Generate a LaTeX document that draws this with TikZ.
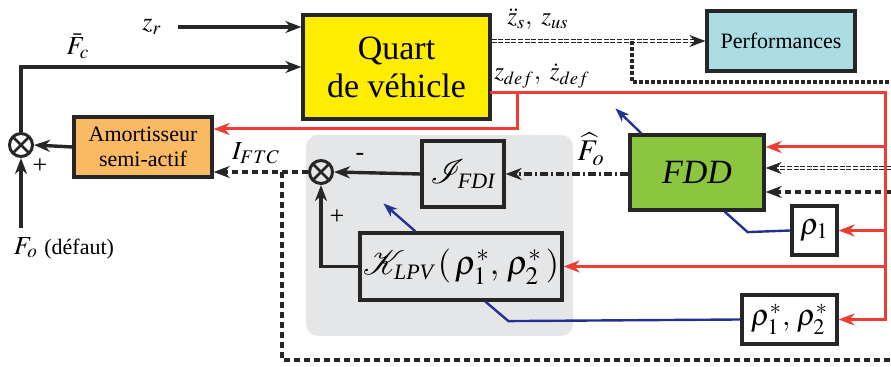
\documentclass[tikz,border=0pt]{standalone}
\usepackage{mathptmx}
\usepackage{fontspec}
\setmainfont{Liberation Serif}
\usepackage{tikz}
\usetikzlibrary{arrows.meta, positioning, backgrounds}
\definecolor{quartyellow}{RGB}{255,237,0}
\definecolor{amortorange}{RGB}{250,186,100}
\definecolor{perfcyan}{RGB}{170,220,226}
\definecolor{fddgreen}{RGB}{140,197,62}
\definecolor{panelgray}{RGB}{229,230,232}
\definecolor{sigred}{RGB}{236,62,52}
\definecolor{parblue}{RGB}{35,50,145}

\begin{document}
\begin{tikzpicture}[x=0.5pt, y=-0.5pt, >={Stealth[length=8pt,width=6pt,inset=2.5pt]}]
        \tikzstyle{box} = [rectangle, draw=black!85, line width=1.6pt, text centered, inner sep=0pt]
        \tikzstyle{sumnode} = [circle, draw=black!85, line width=1.5pt, minimum size=11.5pt, inner sep=0pt,
            path picture={\draw[line width=1.3pt] (path picture bounding box.north west) -- (path picture bounding box.south east)
                (path picture bounding box.south west) -- (path picture bounding box.north east);}]
        \tikzstyle{arrow} = [line width=1.7pt,->,black!85]
        \tikzstyle{dasharrow} = [line width=1.6pt,->,black!85,dash pattern=on 3pt off 2pt]
        \tikzstyle{dashline} = [line width=1.6pt,black!85,dash pattern=on 3pt off 2pt]
        \tikzstyle{dblline} = [line width=0.6pt,double=white,double distance=1.2pt,black!85,dash pattern=on 2.5pt off 0.8pt]
        \tikzstyle{redarrow} = [line width=1.5pt,->,sigred]
        \tikzstyle{redline} = [line width=1.5pt,sigred]
        \tikzstyle{bluearrow} = [line width=1.2pt,-{Stealth[length=7pt,width=5pt,inset=2pt]},parblue]
        \tikzstyle{blueline} = [line width=1.2pt,parblue]
        \tikzstyle{lbl} = [inner sep=0pt, font=\fontsize{13}{15}\selectfont]

        \useasboundingbox (0,0) rectangle (891,367);

        % blocks
        \node (quart) [box, fill=quartyellow, minimum width=93.5pt, minimum height=52pt, align=center,
            font=\fontsize{17}{19}\selectfont] at (396.5,67) {Quart\\de véhicle};
        \node (perf) [box, fill=perfcyan, minimum width=74pt, minimum height=30pt,
            font=\fontsize{11}{13}\selectfont] at (781,41) {Performances};
        \node (amort) [box, fill=amortorange, minimum width=69pt, minimum height=30pt, align=center,
            font=\fontsize{11}{12.5}\selectfont] at (143,147) {Amortisseur\\semi-actif};
        \node (fdd) [box, fill=fddgreen, minimum width=67pt, minimum height=37.5pt,
            font=\fontsize{17}{19}\selectfont\itshape] at (697,172.5) {FDD};
        \node (rho1) [box, fill=white, minimum width=22.5pt, minimum height=24.5pt,
            font=\fontsize{15}{17}\selectfont] at (814.5,230.5) {$\rho_1$};
        \node (rhos) [box, fill=white, minimum width=47.5pt, minimum height=24.5pt,
            font=\fontsize{15}{17}\selectfont] at (789.5,319.5) {$\rho_1^*,\,\rho_2^*$};

        % gray panel with the FTC part
        \fill[panelgray, rounded corners=6pt] (306,135) rectangle (573,336);
        \node (ifdi) [box, fill=panelgray, minimum width=41pt, minimum height=33pt,
            font=\fontsize{17}{19}\selectfont] at (463,174) {$\mathcal{I}_{\mbox{\fontsize{11}{11}\selectfont\itshape FDI}}$};
        \node (klpv) [box, fill=panelgray, minimum width=101pt, minimum height=33.5pt,
            font=\fontsize{17}{19}\selectfont] at (461,266.5) {$\mathcal{K}_{\mbox{\fontsize{11}{11}\selectfont\itshape LPV}}\,(\,\rho_1^*,\,\rho_2^*\,)$};

        % summing points
        \node (sum1) [sumnode] at (21,145) {};
        \node (sum2) [sumnode] at (321,172) {};

        % labels
        \node (zr) [lbl] at (152,27) {$z_r$};
        \node (fc) [lbl] at (78,46) {$\bar{F}_c$};
        \node (zs) [lbl, font=\fontsize{12.5}{15}\selectfont] at (538,19) {$\ddot{z}_s,\ z_{us}$};
        \node (zdef) [lbl, font=\fontsize{12.5}{15}\selectfont] at (542,76) {$z_{def},\ \dot{z}_{def}$};
        \node (ftc) [lbl] at (256,153) {$I_{FTC}$};
        \node (fhat) [lbl, font=\fontsize{15}{17}\selectfont] at (591,149) {$\widehat{F}_o$};
        \node (fo) [lbl] at (64,248) {$\fontsize{17}{19}\selectfont F_o$ \fontsize{11}{13}\selectfont(défaut)};
        \node (p1) [lbl] at (40,166) {+};
        \node (m2) [lbl] at (360,157) {-};
        \node (p2) [lbl] at (337,217) {+};

        \coordinate (fostart) at (21,228);
        \coordinate (zdefout) at (490,93);
        \coordinate (rA) at (517,93);
        \coordinate (rB) at (517,129);
        \coordinate (rR) at (885,93);
        \coordinate (rF) at (885,147);
        \coordinate (perfbr) at (632,41);
        \coordinate (outA) at (891,82);
        \coordinate (inA) at (891,168);
        \coordinate (inB) at (891,192);
        \coordinate (ftcbr) at (282,172);
        \coordinate (outC) at (891,360);

        % black signals
        \draw [arrow] (zr.east) ++(8pt,0) -- (quart.west |- zr);
        \draw [arrow] (sum1.north) |- (quart.west);
        \draw [arrow] (amort.west) -- (sum1.east);
        \draw [arrow] (fostart) -- (sum1.south);
        \draw [arrow] (ifdi.west) -- (sum2.east);
        \draw [arrow] (klpv.west) -| (sum2.south);
        \draw [dasharrow, dash pattern=on 4pt off 1.5pt on 1pt off 1.5pt] (fdd.west |- ifdi.east) -- (ifdi.east);
        \draw [dasharrow] (sum2.west) -- (amort.east |- sum2);
        \draw [dashline] (ftcbr) |- (outC);
        \draw [dblline, ->] (quart.east |- perf.west) -- (perf.west);
        \draw [dashline, dash pattern=on 2pt off 1pt] (perfbr) |- (outA);
        \draw [dblline, ->] (inA) -- (fdd.east |- inA);
        \draw [dasharrow] (inB) -- (fdd.east |- inB);

        % red signals
        \draw [redarrow] (zdefout) -- (rR) |- (rhos.east);
        \draw [redarrow] (rA) |- (amort.east |- rB);
        \draw [redarrow] (rF) -- (fdd.east |- rF);
        \draw [redarrow] (rR |- rho1) -- (rho1.east);
        \draw [redarrow] (rR |- klpv) -- (klpv.east);

        % scheduling parameters
        \draw [bluearrow] ([xshift=6.5pt]fdd.north west) -- ++(-26,-25);
        \draw [blueline] ([xshift=-20.5pt]fdd.south east) -- ++(23,20.5) -- (rho1.west);
        \draw [bluearrow] ([xshift=28.5pt]klpv.north west) -- ++(-32,-28);
        \draw [blueline] ([xshift=63.5pt]klpv.south west) -- ++(23,19.5) -- (rhos.west);
    \end{tikzpicture}
\end{document}
